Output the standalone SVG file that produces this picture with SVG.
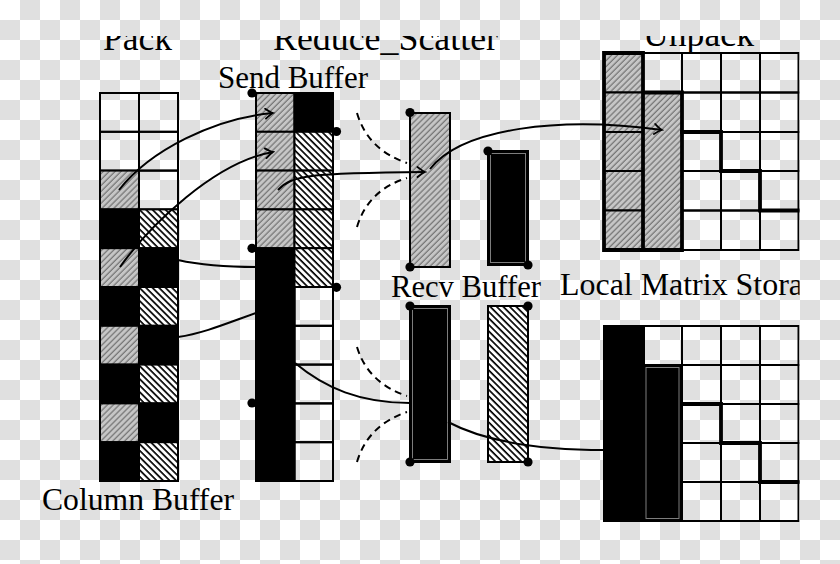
<svg xmlns="http://www.w3.org/2000/svg" width="840" height="564" viewBox="0 0 840 564">
<defs>
<pattern id="chk" x="0" y="0" width="40" height="40" patternUnits="userSpaceOnUse">
<rect x="0" y="0" width="40" height="40" fill="#ffffff"/>
<rect x="20" y="0" width="20" height="20" fill="#e0e0e0"/>
<rect x="0" y="20" width="20" height="20" fill="#e0e0e0"/>
</pattern>
<pattern id="hg" width="4.2" height="4.2" patternUnits="userSpaceOnUse" patternTransform="rotate(45)">
<rect width="4.2" height="4.2" fill="#c6c6c6"/>
<line x1="1" y1="0" x2="1" y2="4.2" stroke="#6a6a6a" stroke-width="1.1"/>
</pattern>
<pattern id="hw" width="4.6" height="4.6" patternUnits="userSpaceOnUse" patternTransform="rotate(-45)">
<rect width="4.6" height="4.6" fill="#ffffff"/>
<line x1="1" y1="0" x2="1" y2="4.6" stroke="#000" stroke-width="1.7"/>
</pattern>
<marker id="arr" viewBox="-9 -6 11 12" refX="0" refY="0" markerWidth="11" markerHeight="12" markerUnits="userSpaceOnUse" orient="auto">
<path d="M-7.5,-5 Q-2.5,-1 0,0 Q-2.5,1 -7.5,5" fill="none" stroke="#000" stroke-width="1.8" stroke-linecap="round"/>
</marker>
<clipPath id="clip"><rect x="0" y="36" width="799.5" height="528"/></clipPath>
<style>
.t{font-family:"Liberation Serif","DejaVu Serif",serif;fill:#000}
.ti{font-size:35px}
.lb{font-size:31px}
.c{stroke:#000;stroke-width:2}
.g{fill:url(#hg)}
.w{fill:url(#hw)}
.b{fill:#000}
.e{fill:none}
.thk{stroke:#000;stroke-width:3.8;fill:none;stroke-linecap:square}
.in{fill:none;stroke:#8a8a8a;stroke-width:0.9}
.dot{fill:#000}
.cv{fill:none;stroke:#000;stroke-width:2}
.ds{fill:none;stroke:#000;stroke-width:2;stroke-dasharray:7 5}
</style>
</defs>
<g id="background">
<rect x="0" y="0" width="840" height="564" fill="url(#chk)"/>
</g>
<g clip-path="url(#clip)">
<g id="titles">
<text class="t ti" x="103" y="50" textLength="69" lengthAdjust="spacingAndGlyphs">Pack</text>
<text class="t ti" x="273" y="50" textLength="225" lengthAdjust="spacingAndGlyphs">Reduce_Scatter</text>
<text class="t ti" x="643" y="46" textLength="111" lengthAdjust="spacingAndGlyphs">Unpack</text>
</g>
<g id="column-buffer">
<rect class="c e" x="100" y="93" width="39" height="38.8"/>
<rect class="c e" x="139" y="93" width="39" height="38.8"/>
<rect class="c e" x="100" y="131.8" width="39" height="38.8"/>
<rect class="c e" x="139" y="131.8" width="39" height="38.8"/>
<rect class="c g" x="100" y="170.6" width="39" height="38.8"/>
<rect class="c e" x="139" y="170.6" width="39" height="38.8"/>
<rect class="c b" x="100" y="209.4" width="39" height="38.8"/>
<rect class="c w" x="139" y="209.4" width="39" height="38.8"/>
<rect class="c g" x="100" y="248.2" width="39" height="38.8"/>
<rect class="c b" x="139" y="248.2" width="39" height="38.8"/>
<rect class="c b" x="100" y="287" width="39" height="38.8"/>
<rect class="c w" x="139" y="287" width="39" height="38.8"/>
<rect class="c g" x="100" y="325.8" width="39" height="38.8"/>
<rect class="c b" x="139" y="325.8" width="39" height="38.8"/>
<rect class="c b" x="100" y="364.6" width="39" height="38.8"/>
<rect class="c w" x="139" y="364.6" width="39" height="38.8"/>
<rect class="c g" x="100" y="403.4" width="39" height="38.8"/>
<rect class="c b" x="139" y="403.4" width="39" height="38.8"/>
<rect class="c b" x="100" y="442.2" width="39" height="38.8"/>
<rect class="c w" x="139" y="442.2" width="39" height="38.8"/>
<text class="t lb" x="42" y="510" textLength="192" lengthAdjust="spacingAndGlyphs">Column Buffer</text>
</g>
<g id="send-buffer">
<rect class="c g" x="256" y="93" width="38.5" height="38.8"/>
<rect class="c b" x="294.5" y="93" width="38.5" height="38.8"/>
<rect class="c g" x="256" y="131.8" width="38.5" height="38.8"/>
<rect class="c w" x="294.5" y="131.8" width="38.5" height="38.8"/>
<rect class="c g" x="256" y="170.6" width="38.5" height="38.8"/>
<rect class="c w" x="294.5" y="170.6" width="38.5" height="38.8"/>
<rect class="c g" x="256" y="209.4" width="38.5" height="38.8"/>
<rect class="c w" x="294.5" y="209.4" width="38.5" height="38.8"/>
<rect class="c b" x="256" y="248.2" width="38.5" height="232.8"/>
<rect class="c w" x="294.5" y="248.2" width="38.5" height="38.8"/>
<rect class="c e" x="294.5" y="287" width="38.5" height="38.8"/>
<rect class="c e" x="294.5" y="325.8" width="38.5" height="38.8"/>
<rect class="c e" x="294.5" y="364.6" width="38.5" height="38.8"/>
<rect class="c e" x="294.5" y="403.4" width="38.5" height="38.8"/>
<rect class="c e" x="294.5" y="442.2" width="38.5" height="38.8"/>
<circle class="dot" cx="252" cy="93" r="4.6"/>
<circle class="dot" cx="336.5" cy="131.5" r="4.6"/>
<circle class="dot" cx="252" cy="248.3" r="4.6"/>
<circle class="dot" cx="336.5" cy="287.3" r="4.6"/>
<circle class="dot" cx="252" cy="403" r="4.6"/>
<text class="t lb" x="218" y="88" textLength="150" lengthAdjust="spacingAndGlyphs">Send Buffer</text>
</g>
<g id="recv-buffer">
<rect class="c g" x="410" y="113" width="40" height="154"/>
<rect class="c b" x="488" y="151" width="40" height="114"/>
<rect class="in" x="490.5" y="153.5" width="35" height="109"/>
<rect class="c b" x="410" y="306" width="40" height="156"/>
<rect class="in" x="412.5" y="308.5" width="35" height="151"/>
<rect class="c w" x="488" y="306" width="40" height="156"/>
<circle class="dot" cx="410" cy="112.5" r="4.6"/>
<circle class="dot" cx="410" cy="267" r="4.6"/>
<circle class="dot" cx="488" cy="151" r="4.6"/>
<circle class="dot" cx="528" cy="265" r="4.6"/>
<circle class="dot" cx="410" cy="306" r="4.6"/>
<circle class="dot" cx="410" cy="462" r="4.6"/>
<circle class="dot" cx="528" cy="306" r="4.6"/>
<circle class="dot" cx="528" cy="462" r="4.6"/>
<text class="t lb" x="391" y="297" textLength="150" lengthAdjust="spacingAndGlyphs">Recv Buffer</text>
</g>
<g id="matrix-top">
<rect class="c e" x="643" y="53" width="39" height="39.5"/>
<rect class="c e" x="682" y="53" width="39" height="39.5"/>
<rect class="c e" x="721" y="53" width="39" height="39.5"/>
<rect class="c e" x="760" y="53" width="38.5" height="39.5"/>
<rect class="c e" x="682" y="92.5" width="39" height="39.5"/>
<rect class="c e" x="721" y="92.5" width="39" height="39.5"/>
<rect class="c e" x="760" y="92.5" width="38.5" height="39.5"/>
<rect class="c e" x="682" y="132" width="39" height="39"/>
<rect class="c e" x="721" y="132" width="39" height="39"/>
<rect class="c e" x="760" y="132" width="38.5" height="39"/>
<rect class="c e" x="682" y="171" width="39" height="39.5"/>
<rect class="c e" x="721" y="171" width="39" height="39.5"/>
<rect class="c e" x="760" y="171" width="38.5" height="39.5"/>
<rect class="c e" x="682" y="210.5" width="39" height="39.5"/>
<rect class="c e" x="721" y="210.5" width="39" height="39.5"/>
<rect class="c e" x="760" y="210.5" width="38.5" height="39.5"/>
<rect class="c g" x="604" y="53" width="39" height="39.5"/>
<rect class="c g" x="604" y="92.5" width="39" height="39.5"/>
<rect class="c g" x="604" y="132" width="39" height="39"/>
<rect class="c g" x="604" y="171" width="39" height="39.5"/>
<rect class="c g" x="604" y="210.5" width="39" height="39.5"/>
<rect class="g" x="643" y="92.5" width="39" height="157.5"/>
<path class="thk" d="M604,250 V53 H643 V250 H604 M643,92.5 H682 V250 H643"/>
<path class="thk" d="M682,132 H721 V171 H760 V210.5 H798"/>
</g>
<g id="matrix-bottom">
<rect class="c e" x="643" y="326" width="39" height="39"/>
<rect class="c e" x="682" y="326" width="39" height="39"/>
<rect class="c e" x="721" y="326" width="39" height="39"/>
<rect class="c e" x="760" y="326" width="38.5" height="39"/>
<rect class="c e" x="682" y="365" width="39" height="39"/>
<rect class="c e" x="721" y="365" width="39" height="39"/>
<rect class="c e" x="760" y="365" width="38.5" height="39"/>
<rect class="c e" x="682" y="404" width="39" height="39"/>
<rect class="c e" x="721" y="404" width="39" height="39"/>
<rect class="c e" x="760" y="404" width="38.5" height="39"/>
<rect class="c e" x="682" y="443" width="39" height="39"/>
<rect class="c e" x="721" y="443" width="39" height="39"/>
<rect class="c e" x="760" y="443" width="38.5" height="39"/>
<rect class="c e" x="682" y="482" width="39" height="39"/>
<rect class="c e" x="721" y="482" width="39" height="39"/>
<rect class="c e" x="760" y="482" width="38.5" height="39"/>
<rect class="b" x="603" y="325" width="42" height="197"/>
<rect class="b" x="643" y="364" width="40" height="158"/>
<rect class="in" x="646" y="367.5" width="33" height="151"/>
<path class="thk" d="M682,404 H721 V443 H760 V482 H798"/>
<text class="t lb" x="560" y="295" textLength="243" lengthAdjust="spacingAndGlyphs">Local Matrix Stora</text>
</g>
<g id="connectors">
<path class="cv" d="M119,190 C150,150 215,118 273,113" marker-end="url(#arr)"/>
<path class="cv" d="M120,267 C150,225 215,162 273,152" marker-end="url(#arr)"/>
<path class="cv" d="M278,190 C292,175 310,173 425,172" marker-end="url(#arr)"/>
<path class="cv" d="M430,169 C462,128 560,116 662,130" marker-end="url(#arr)"/>
<path class="cv" d="M178,260 C205,266 230,267 256,267"/>
<path class="cv" d="M178,337 C205,333 230,322 256,313"/>
<path class="cv" d="M295,363 C325,388 360,403 410,403"/>
<path class="cv" d="M448,422 C482,440 530,450 605,450"/>
<path class="ds" d="M357,113 Q368,150 407,163"/>
<path class="ds" d="M357,227 Q368,190 407,178"/>
<path class="ds" d="M357,347 Q368,383 407,396"/>
<path class="ds" d="M357,462 Q368,425 407,412"/>
</g>
</g>
</svg>
